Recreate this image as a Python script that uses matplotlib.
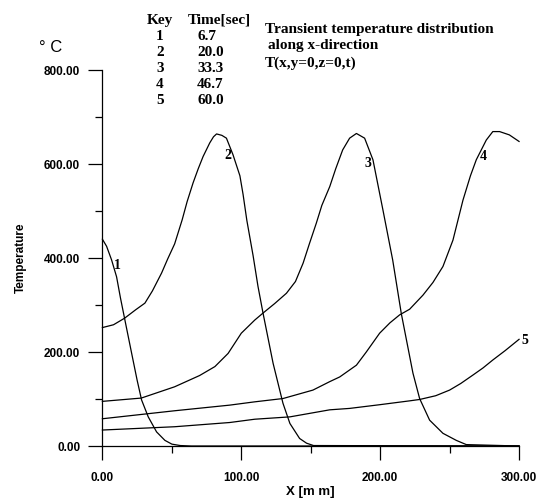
import matplotlib
matplotlib.use("Agg")
import matplotlib.pyplot as plt
from matplotlib.ticker import MultipleLocator, FormatStrFormatter

# curve data: x [mm], temperature [deg C]
x1 = [0, 3, 6.6, 10.2, 13, 16.2, 21, 25, 28.2, 33, 39, 45, 50, 56, 64, 300]
t1 = [440, 425, 396, 360, 315, 268, 198, 140, 98, 62, 30, 12, 4, 1, 0, 0]

x2 = [0, 8, 16, 24, 30.6, 36, 42.6, 47, 52, 57.4, 61, 65.3, 69, 72.5, 77.3, 80,
      82.2, 86, 89.3, 94, 99, 101.3, 104, 108.5, 112, 115.7, 122.9, 130, 135,
      142, 147, 152, 300]
t2 = [252, 258, 272, 290, 304, 330, 368, 398, 430, 481, 520, 560, 590, 616, 645,
      658, 664, 661, 655, 620, 575, 535, 480, 405, 340, 282, 176, 91, 48, 16, 6,
      1, 0]

x3 = [0, 28, 52, 70, 81, 90.5, 100, 109.7, 115.7, 124, 132.5, 139, 144.5, 149,
      154, 158, 163.7, 168, 173, 178, 182.9, 188.8, 194.8, 202, 209, 215.2,
      223.6, 228.4, 235.6, 245.2, 254.8, 262, 300]
t3 = [95, 102, 126, 150, 169, 197, 240, 268, 283, 303, 325, 350, 389, 430, 474,
      512, 552, 590, 630, 655, 665, 655, 609, 502, 396, 282, 155, 101, 55, 27,
      12, 3, 0]

x4 = [0, 52, 91.7, 109.7, 130, 151.6, 163.7, 170.9, 182.9, 190, 199.6, 207, 214,
      221.2, 230.8, 238, 245.2, 252.4, 259.6, 265, 269.2, 276.4, 281.1, 286,
      293, 300]
t4 = [58, 75, 87, 94, 101, 119, 137, 147, 172, 200, 240, 262, 279, 291, 321, 348,
      382, 438, 523, 575, 609, 651, 669, 669, 662, 648]

x5 = [0, 52, 91.7, 109.7, 135, 163.7, 178, 200, 221, 228.4, 240, 250, 258,
      266.8, 274, 281.1, 290, 300]
t5 = [34, 41, 50, 57, 62, 77, 80, 88, 96, 99, 107, 119, 133, 151, 166, 183, 203,
      227]

keys = ["1", "2", "3", "4", "5"]
times = ["6.7", "20.0", "33.3", "46.7", "60.0"]
label_pos = [(11, 385), (90, 619), (191, 602), (274, 615), (304, 225)]

serif = "Liberation Serif"
sans = "Liberation Sans"


def main():
    fig = plt.figure(figsize=(5.39, 4.98), dpi=100)
    ax = fig.add_axes([0.190, 0.1044, 0.773, 0.755])

    for xs, ts in zip([x1, x2, x3, x4, x5], [t1, t2, t3, t4, t5]):
        ax.plot(xs, ts, color="black", linewidth=0.9, clip_on=False,
                solid_joinstyle="round")

    # curve numbers
    for k, (lx, ly) in zip(keys, label_pos):
        ax.text(lx, ly, k, family=serif, fontweight="bold", fontsize=10,
                ha="center", va="center")

    ax.set_xlim(0, 300)
    ax.set_ylim(0, 800)
    for s in ["top", "right"]:
        ax.spines[s].set_visible(False)
    for s in ["left", "bottom"]:
        ax.spines[s].set_linewidth(0.9)

    ax.xaxis.set_major_locator(MultipleLocator(100))
    ax.xaxis.set_minor_locator(MultipleLocator(50))
    ax.yaxis.set_major_locator(MultipleLocator(200))
    ax.yaxis.set_minor_locator(MultipleLocator(100))
    ax.xaxis.set_major_formatter(FormatStrFormatter("%.2f"))
    ax.yaxis.set_major_formatter(FormatStrFormatter("%.2f"))
    ax.tick_params(which="major", direction="out", length=10, width=0.9)
    ax.tick_params(which="minor", direction="out", length=5, width=0.9)
    ax.tick_params(axis="x", which="major", pad=9)
    ax.tick_params(axis="y", which="major", pad=6)
    for lab in ax.get_xticklabels() + ax.get_yticklabels():
        lab.set_family(sans)
        lab.set_fontweight("bold")
        lab.set_fontsize(8.5)

    ax.set_xlabel("X [m m]", family=sans, fontweight="bold", fontsize=9.5,
                  labelpad=1)
    ax.set_ylabel("Temperature", family=sans, fontweight="bold", fontsize=8.5,
                  labelpad=12)

    # unit and key table
    fig.text(39 / 539, 1 - 47 / 498, "° C", family=sans, fontsize=12,
             va="center", ha="left")
    fig.text(147 / 539, 1 - 20 / 498, "Key", family=serif, fontweight="bold",
             fontsize=11, va="center", ha="left")
    fig.text(188 / 539, 1 - 20 / 498, "Time[sec]", family=serif,
             fontweight="bold", fontsize=11, va="center", ha="left")
    for i, (k, tm) in enumerate(zip(keys, times)):
        yy = 1 - (37 + 16 * i) / 498
        fig.text(160 / 539, yy, k, family=serif, fontweight="bold",
                 fontsize=11, va="center", ha="center")
        fig.text(197 / 539, yy, tm, family=serif, fontweight="bold",
                 fontsize=11, va="center", ha="left")

    fig.text(265 / 539, 1 - 30 / 498, "Transient temperature distribution",
             family=serif, fontweight="bold", fontsize=11, va="center")
    fig.text(268 / 539, 1 - 46 / 498, "along x-direction",
             family=serif, fontweight="bold", fontsize=11, va="center")
    fig.text(265 / 539, 1 - 63 / 498, "T(x,y=0,z=0,t)",
             family=serif, fontweight="bold", fontsize=11, va="center")

    fig.savefig("out.png", dpi=100)


if __name__ == "__main__":
    main()
